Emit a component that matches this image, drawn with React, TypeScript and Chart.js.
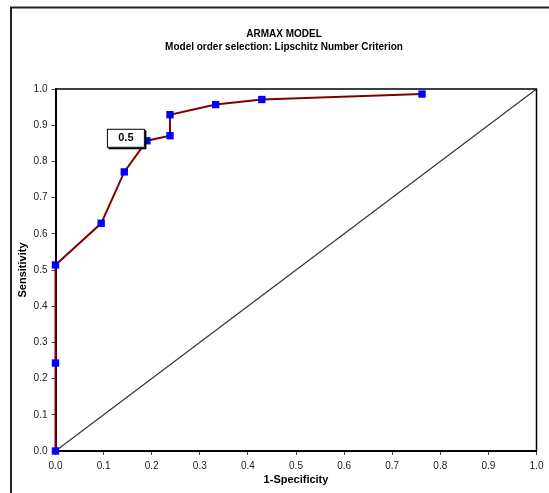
import React, { useEffect, useRef } from "react";
import { Chart, registerables } from "chart.js";

Chart.register(...registerables);

const titleLines = ["ARMAX MODEL", "Model order selection: Lipschitz Number Criterion"];
const xTitle = "1-Specificity";
const yTitle = "Sensitivity";
const fpr = [0, 0, 0, 0.095, 0.143, 0.19, 0.238, 0.238, 0.333, 0.429, 0.762];
const tpr = [0, 0.243, 0.514, 0.629, 0.771, 0.857, 0.871, 0.929, 0.957, 0.971, 0.986];
const diagX = [0, 1];
const diagY = [0, 1];
const labelIndex = 5;
const labelText = "0.5";

const FONT = "'Liberation Sans', Arial, sans-serif";

const decorPlugin = {
  id: "decor",
  afterDraw(chart: any) {
    const { ctx, chartArea } = chart;
    ctx.save();
    // outer frame
    ctx.strokeStyle = "#222";
    ctx.lineWidth = 2;
    ctx.beginPath();
    ctx.moveTo(11, 493);
    ctx.lineTo(11, 7.5);
    ctx.lineTo(549, 7.5);
    ctx.stroke();
    // plot box top & right
    ctx.strokeStyle = "#000";
    ctx.lineWidth = 1.5;
    ctx.beginPath();
    ctx.moveTo(chartArea.left, chartArea.top);
    ctx.lineTo(chartArea.right, chartArea.top);
    ctx.lineTo(chartArea.right, chartArea.bottom);
    ctx.stroke();
    // title
    ctx.fillStyle = "#000";
    ctx.font = `bold 10px ${FONT}`;
    ctx.textAlign = "center";
    ctx.textBaseline = "middle";
    ctx.fillText(titleLines[0], 284, 34.5);
    ctx.fillText(titleLines[1], 284, 47);
    // data label box
    const xs = chart.scales.x;
    const ys = chart.scales.y;
    const px = xs.getPixelForValue(fpr[labelIndex]);
    const py = ys.getPixelForValue(tpr[labelIndex]);
    const right = px - 2;
    const left = right - 38;
    const top = py - 12;
    const bottom = py + 7;
    ctx.fillStyle = "#000";
    ctx.fillRect(left + 1.5, top + 1.5, right - left, bottom - top);
    ctx.fillStyle = "#fff";
    ctx.fillRect(left, top, right - left, bottom - top);
    ctx.strokeStyle = "#000";
    ctx.lineWidth = 1;
    ctx.strokeRect(left + 0.5, top + 0.5, right - left - 1, bottom - top - 1);
    ctx.fillStyle = "#000";
    ctx.font = `bold 11px ${FONT}`;
    ctx.fillText(labelText, (left + right) / 2, (top + bottom) / 2);
    ctx.restore();
  },
};

export default function App() {
  const ref = useRef<HTMLCanvasElement>(null);
  useEffect(() => {
    document.body.style.margin = "0";
    const chart = new Chart(ref.current!, {
      type: "scatter",
      data: {
        datasets: [
          {
            label: "ROC",
            data: fpr.map((x, i) => ({ x, y: tpr[i] })),
            showLine: true,
            borderColor: "#800000",
            borderWidth: 2,
            pointStyle: "rect",
            pointRadius: 5.2,
            pointBackgroundColor: "#0000ff",
            pointBorderColor: "#0000ff",
            pointBorderWidth: 0,
            clip: false,
            order: 1,
          } as any,
          {
            label: "Diagonal",
            data: diagX.map((x, i) => ({ x, y: diagY[i] })),
            showLine: true,
            borderColor: "#333",
            borderWidth: 1.2,
            pointRadius: 0,
            order: 2,
          } as any,
        ],
      },
      options: {
        animation: false,
        responsive: false,
        events: [],
        layout: { padding: { left: 12, right: 12.5, top: 89, bottom: 0 } },
        plugins: {
          legend: { display: false },
          tooltip: { enabled: false },
          title: { display: false },
        },
        scales: {
          x: {
            type: "linear",
            min: 0,
            max: 1,
            afterFit: (s: any) => {
              s.height = 42;
            },
            ticks: {
              stepSize: 0.1,
              callback: (v: any) => Number(v).toFixed(1),
              font: { family: FONT, size: 10 },
              color: "#222",
              padding: 5,
              maxRotation: 0,
            },
            grid: {
              display: true,
              drawOnChartArea: false,
              drawTicks: true,
              tickLength: 4,
              color: "#444",
            },
            border: { display: true, color: "#000", width: 2 },
            title: {
              display: true,
              text: xTitle,
              font: { family: FONT, size: 11, weight: "bold" },
              color: "#000",
              padding: { top: 0, bottom: 6.4 },
            },
          },
          y: {
            type: "linear",
            min: 0,
            max: 1,
            afterFit: (s: any) => {
              s.width = 43.5;
            },
            ticks: {
              stepSize: 0.1,
              callback: (v: any) => Number(v).toFixed(1),
              font: { family: FONT, size: 10 },
              color: "#222",
              padding: 4,
            },
            grid: {
              display: true,
              drawOnChartArea: false,
              drawTicks: true,
              tickLength: 4,
              color: "#444",
            },
            border: { display: true, color: "#000", width: 2 },
            title: {
              display: true,
              text: yTitle,
              font: { family: FONT, size: 11, weight: "bold" },
              color: "#000",
              padding: { top: 4, bottom: 0 },
            },
          },
        },
      },
      plugins: [decorPlugin],
    });
    return () => chart.destroy();
  }, []);
  return (
    <div style={{ position: "relative", width: 549, height: 493, background: "#fff" }}>
      <canvas ref={ref} width={549} height={493} style={{ display: "block" }} />
    </div>
  );
}
